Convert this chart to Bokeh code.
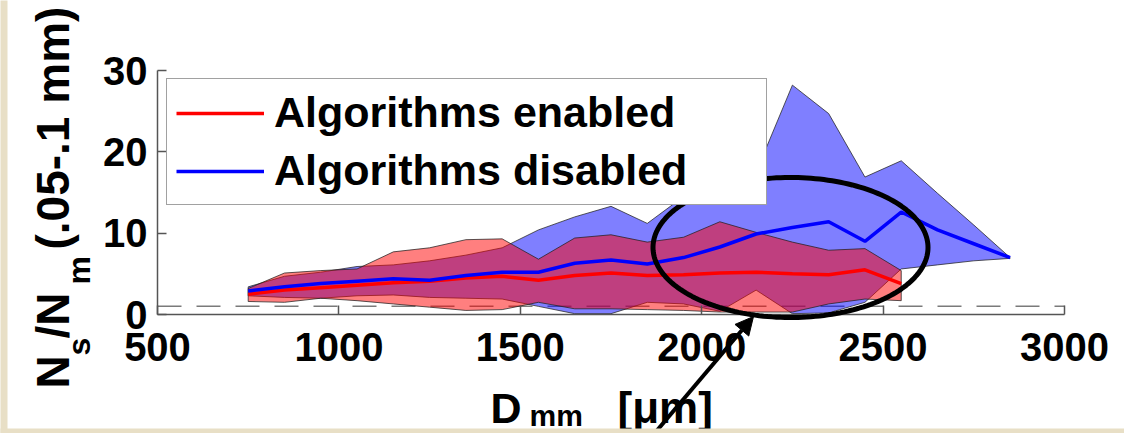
import numpy as np
from bokeh.plotting import figure
from bokeh.models import (Range1d, FixedTicker, Label, Legend, LegendItem,
                          BoxAnnotation, PolyAnnotation, Arrow, NormalHead)
from bokeh.embed import file_html
from bokeh.resources import INLINE

# ---------------- data ----------------
d_enabled = [750, 850, 950, 1050, 1150, 1250, 1350, 1450, 1550, 1650, 1750,
             1850, 1950, 2050, 2150, 2250, 2350, 2450, 2550]
mean_enabled = [2.5, 3.0, 3.3, 3.6, 3.9, 4.1, 4.5, 4.7, 4.2, 4.8, 5.1,
                4.8, 4.9, 5.1, 5.2, 5.0, 4.9, 5.5, 3.8]
upper_enabled = [3.2, 5.1, 5.4, 5.6, 7.7, 8.2, 9.2, 9.3, 6.8, 9.4, 9.8,
                 8.9, 9.5, 11.4, 10.1, 8.9, 7.9, 8.1, 5.4]
lower_enabled = [1.6, 1.5, 2.0, 1.7, 1.3, 0.9, 0.5, 0.6, 1.5, 0.7, 0.7,
                 0.6, 0.5, 0.3, 0.3, 0.3, 1.3, 1.9, 1.7]

d_disabled = [750, 850, 950, 1050, 1150, 1250, 1350, 1450, 1550, 1650, 1750,
              1850, 1950, 2050, 2150, 2250, 2350, 2450, 2550, 2650, 2750, 2850]
mean_disabled = [2.9, 3.4, 3.8, 4.1, 4.4, 4.2, 4.8, 5.2, 5.2, 6.3, 6.7,
                 6.2, 7.0, 8.3, 9.9, 10.7, 11.4, 9.0, 12.6, 10.4, 8.7, 7.0]
upper_disabled = [3.4, 4.7, 5.2, 5.9, 6.1, 6.6, 7.3, 8.2, 10.4, 12.0, 13.3,
                  11.2, 14.5, 16.0, 17.5, 28.2, 24.7, 16.9, 18.9, 14.9, 11.0, 7.0]
lower_disabled = [2.3, 2.1, 2.0, 2.3, 2.4, 2.1, 2.0, 1.9, 1.0, 0.1, 0.1,
                  1.5, 1.3, 0.4, 3.0, 0.1, 0.2, 1.5, 5.6, 6.1, 6.6, 6.9]

x_ticks = [500, 1000, 1500, 2000, 2500, 3000]
y_ticks = [0, 10, 20, 30]
reference_level = 1
series_labels = ["Algorithms enabled", "Algorithms disabled"]

# ---------------- layout constants ----------------
W, H = 1124, 433
FL, FR, FT, FB = 157, 1064, 70, 314      # pixel position of the axes box
X0, X1, Y0, Y1 = 500, 3000, 0, 30        # data limits of the axes box
FONT = "Liberation Sans"
BEIGE = "#E8DFC6"


def dx(px):
    return X0 + (px - FL) * (X1 - X0) / (FR - FL)


def dy(py):
    return Y0 + (FB - py) * (Y1 - Y0) / (FB - FT)


# the frame covers the whole canvas; axes are drawn at fixed locations
p = figure(width=W, height=H,
           x_range=Range1d(dx(0), dx(W)), y_range=Range1d(dy(H), dy(0)),
           output_backend="svg", toolbar_location=None, title=None,
           min_border=0, min_border_left=0, min_border_right=0,
           min_border_top=0, min_border_bottom=0)
p.outline_line_color = None
p.background_fill_color = "white"
p.border_fill_color = "white"
p.grid.visible = False

p.xaxis.fixed_location = Y0
p.xaxis.bounds = (X0, X1)
p.yaxis.fixed_location = X0
p.yaxis.bounds = (Y0, Y1)

for ax, ticks in ((p.xaxis, x_ticks), (p.yaxis, y_ticks)):
    ax.ticker = FixedTicker(ticks=ticks)
    ax.major_tick_in = 9
    ax.major_tick_out = 0
    ax.minor_tick_in = 0
    ax.minor_tick_out = 0
    ax.axis_line_color = "#555555"
    ax.axis_line_width = 1.5
    ax.major_tick_line_color = "#555555"
    ax.major_tick_line_width = 1.5
    ax.major_label_text_font = FONT
    ax.major_label_text_font_style = "bold"
    ax.major_label_text_font_size = "40px"
    ax.major_label_text_color = "black"
p.xaxis.major_label_standoff = 18
p.yaxis.major_label_standoff = 10

# reference dashed line
p.line([X0, X1], [reference_level, reference_level], line_color="#7a7a7a",
       line_width=1.5, line_dash="24 15")

# bands
def band(x, lo, up):
    return list(x) + list(x)[::-1], list(up) + list(lo)[::-1]

bx, by = band(d_disabled, lower_disabled, upper_disabled)
p.patch(bx, by, fill_color="#0000FF", fill_alpha=0.5, line_color="#222222",
        line_alpha=0.75, line_width=1)
rx, ry = band(d_enabled, lower_enabled, upper_enabled)
p.patch(rx, ry, fill_color="#FF0000", fill_alpha=0.5, line_color="#222222",
        line_alpha=0.75, line_width=1)

r_red = p.line(d_enabled, mean_enabled, line_color="#FF0000", line_width=3.5)
r_blue = p.line(d_disabled, mean_disabled, line_color="#0000FF", line_width=3.5)

legend = Legend(items=[LegendItem(label=series_labels[0], renderers=[r_red]),
                       LegendItem(label=series_labels[1], renderers=[r_blue])],
                location=(166, H - 205), margin=0, padding=9, spacing=9,
                glyph_width=88, glyph_height=34, label_standoff=10, label_width=483,
                label_text_font=FONT, label_text_font_style="bold",
                label_text_font_size="43px", label_text_color="black",
                border_line_color="#444444", border_line_width=1,
                background_fill_color="white", background_fill_alpha=1)
p.add_layout(legend)

# annotation ellipse and arrow
ecx, ecy, erx, ery = 790, 247, 137.5, 70
t = np.linspace(0, 2 * np.pi, 200)
p.add_layout(PolyAnnotation(xs=[dx(ecx + erx * np.cos(a)) for a in t],
                            ys=[dy(ecy + ery * np.sin(a)) for a in t],
                            fill_color=None, fill_alpha=0, line_color="black",
                            line_alpha=1, line_width=5))
p.add_layout(Arrow(x_start=dx(648), y_start=dy(440), x_end=dx(753), y_end=dy(316),
                   line_color="black", line_width=4,
                   end=NormalHead(size=18, fill_color="black", line_color="black")))

# axis labels (with subscripts)
def lab(text, px, py, size, angle=0.0):
    p.add_layout(Label(x=dx(px), y=dy(py), text=text, angle=angle,
                       text_font=FONT, text_font_style="bold",
                       text_font_size=f"{size}px", text_color="black",
                       text_align="left", text_baseline="alphabetic"))

lab("D", 490, 407, 43)
lab("mm", 529, 415, 30)
lab("[μm]", 617, 407, 44)

rot = np.pi / 2
lab("N", 52, 388, 46, rot)
lab("s", 78, 355, 32, rot)
lab("/N", 52, 338, 46, rot)
lab("m", 78, 284, 32, rot)
lab("(.05-.1 mm)", 52, 249, 46, rot)

# beige page edges
p.add_layout(BoxAnnotation(left=dx(-5), right=dx(7), bottom=dy(440), top=dy(-5),
                           fill_color=BEIGE, fill_alpha=1, line_alpha=0, level="overlay"))
p.add_layout(BoxAnnotation(left=dx(-5), right=dx(W + 5), bottom=dy(440), top=dy(428),
                           fill_color=BEIGE, fill_alpha=1, line_alpha=0, level="overlay"))

open("out.html", "w").write(file_html(p, INLINE))
